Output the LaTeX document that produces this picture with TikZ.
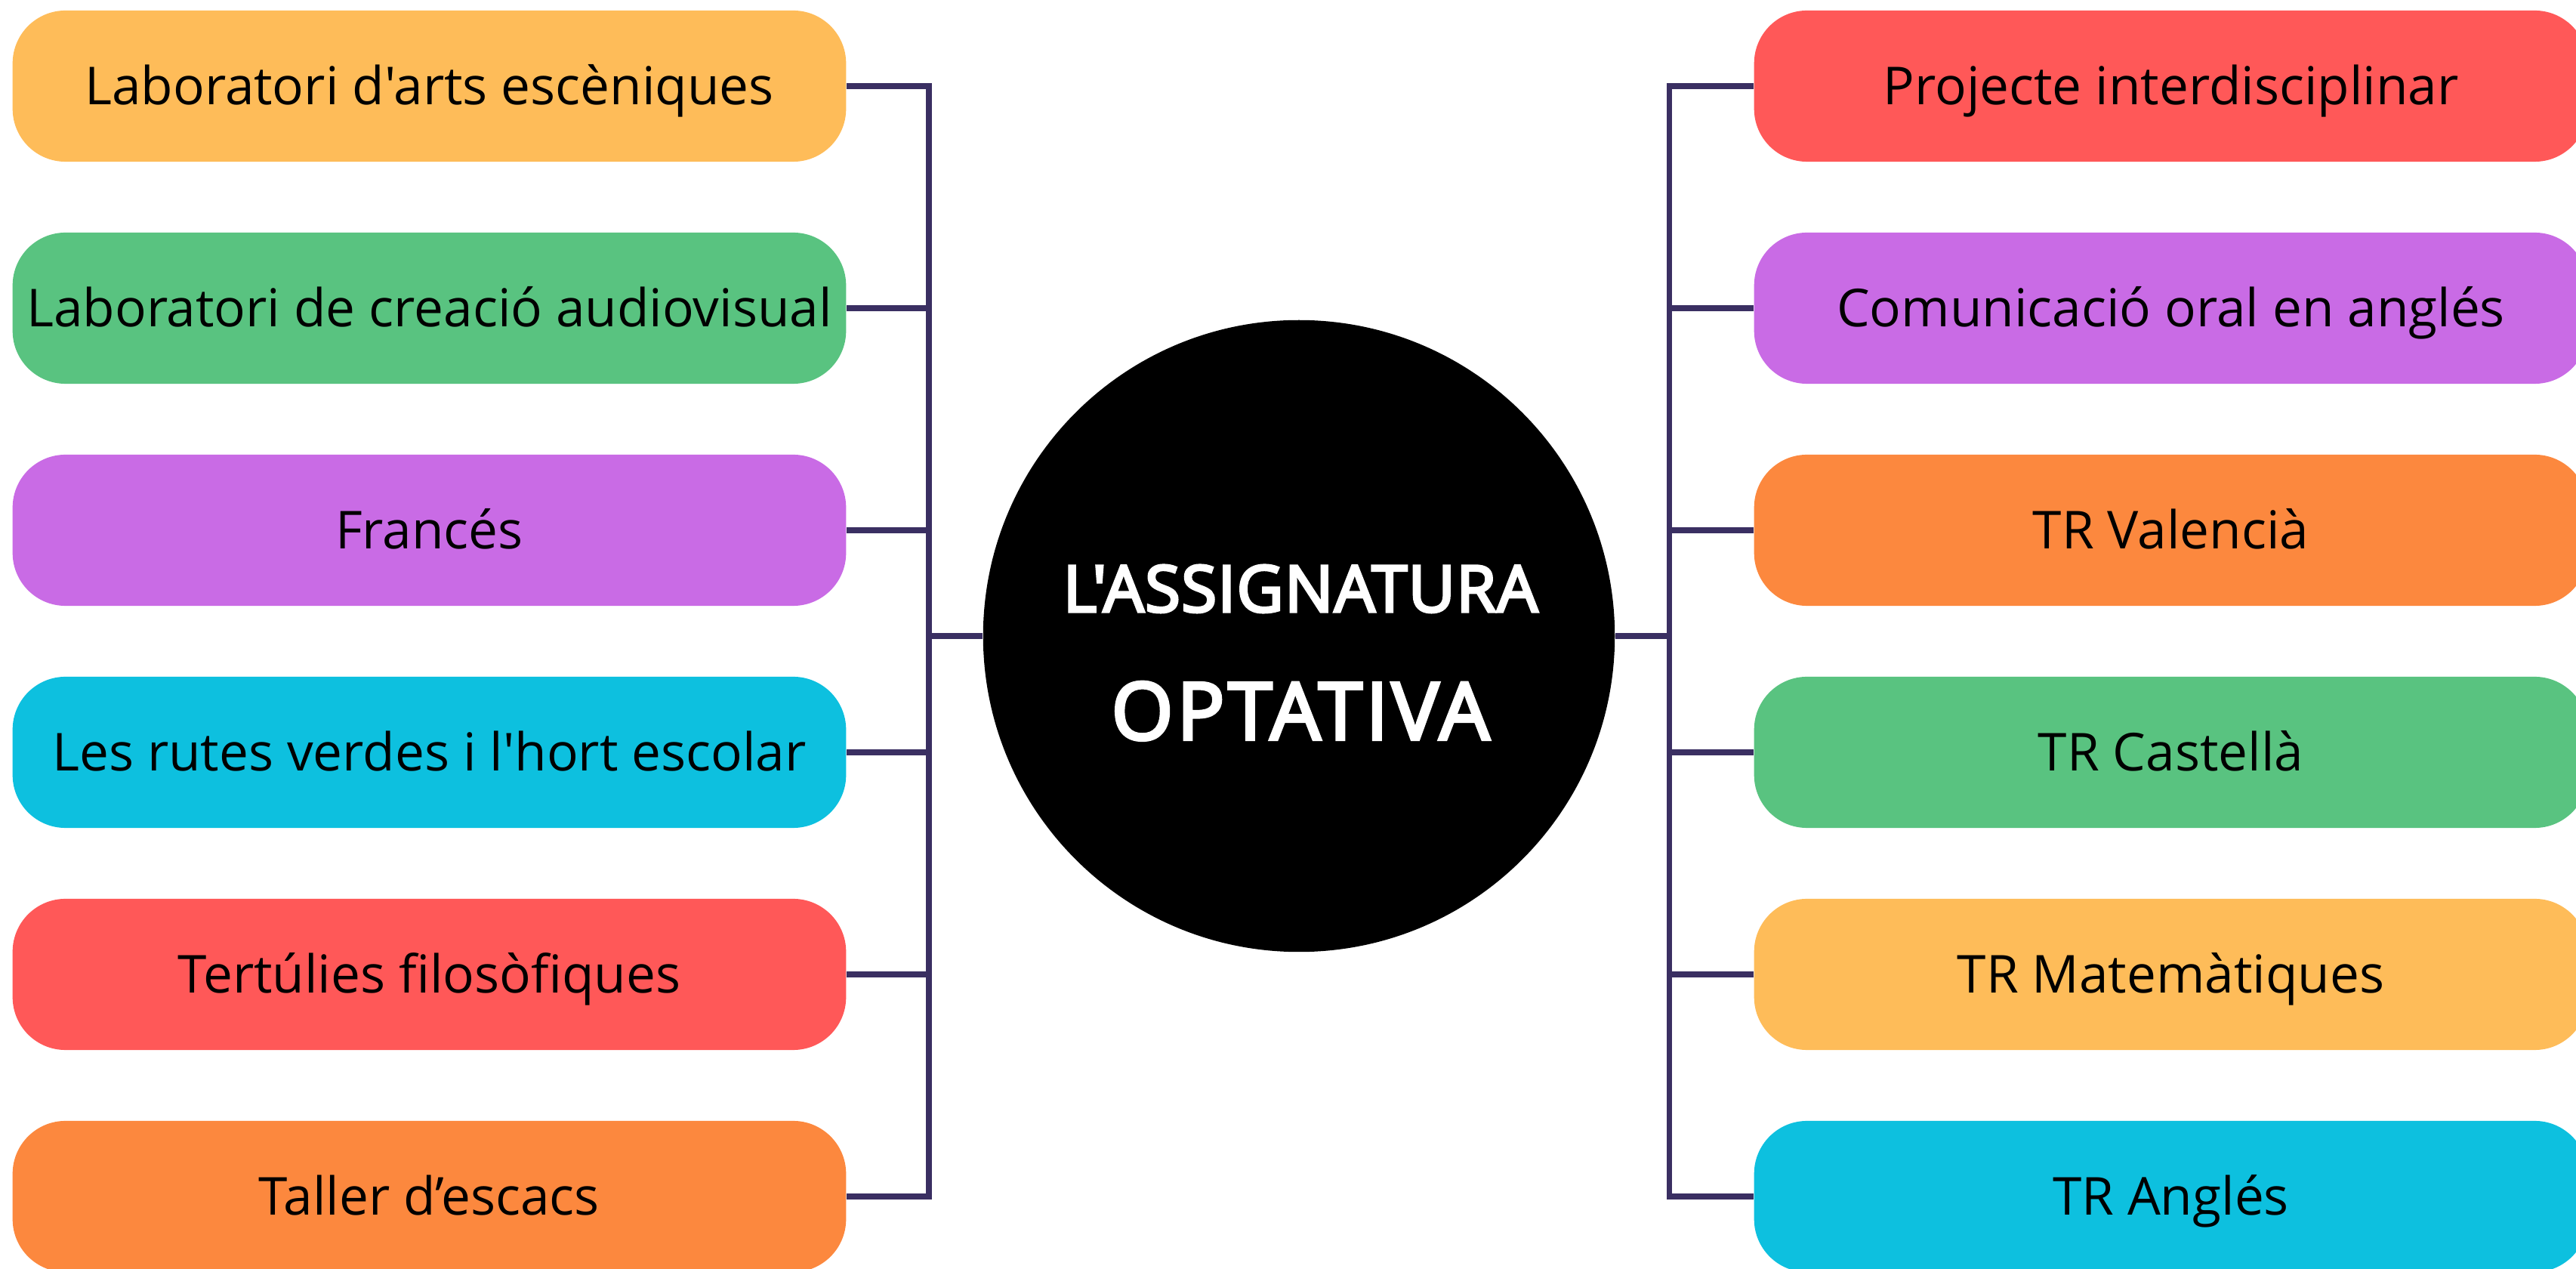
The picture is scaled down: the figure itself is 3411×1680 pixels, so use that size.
\documentclass[tikz,border=0pt]{standalone}
\usepackage{fontspec}
\newfontfamily\boxfont{Open Sans}
\newfontfamily\hubfont[FakeBold=4]{Open Sans}
\definecolor{cyel}{HTML}{FEBC59}
\definecolor{cgrn}{HTML}{59C380}
\definecolor{cpur}{HTML}{C96BE5}
\definecolor{ccya}{HTML}{0DC0DF}
\definecolor{cred}{HTML}{FF5858}
\definecolor{cora}{HTML}{FC883E}
\definecolor{cline}{HTML}{3A2F62}
\tikzset{
  optbox/.style={rectangle, rounded corners=0.7cm, minimum width=11.03cm, minimum height=2cm,
    inner sep=0pt, draw=none, fill=#1, text=black,
    font=\boxfont\fontsize{19.7pt}{23pt}\selectfont, text height=14pt, text depth=0pt},
  conn/.style={draw=cline, line width=2pt},
  hubtext/.style={text=white, inner sep=0pt, anchor=base}
}
\begin{document}
\begin{tikzpicture}[x=0.01cm, y=-0.01cm]
\useasboundingbox (0,0) rectangle (3411,1680);
% hub
\node[circle, fill=black, minimum size=8.36cm, inner sep=0pt] (hub) at (1720,842) {};
\node[hubtext, font=\hubfont\addfontfeature{LetterSpace=1.5}\fontsize{24.3pt}{28pt}\selectfont] (t1) at (1722,810) {L'ASSIGNATURA};
\node[hubtext, font=\hubfont\addfontfeature{LetterSpace=4.5}\fontsize{29.9pt}{34pt}\selectfont] (t2) at (1722,979) {OPTATIVA};
% left boxes
\node[optbox=cyel] (L1) at (568.5,114) {Laboratori d'arts escèniques};
\node[optbox=cgrn] (L2) at (568.5,408) {Laboratori de creació audiovisual};
\node[optbox=cpur] (L3) at (568.5,702) {Francés};
\node[optbox=ccya] (L4) at (568.5,996) {Les rutes verdes i l'hort escolar};
\node[optbox=cred] (L5) at (568.5,1290) {Tertúlies filosòfiques};
\node[optbox=cora] (L6) at (568.5,1584) {Taller d’escacs};
% right boxes
\node[optbox=cred] (R1) at (2874.5,114) {Projecte interdisciplinar};
\node[optbox=cpur] (R2) at (2874.5,408) {Comunicació oral en anglés};
\node[optbox=cora] (R3) at (2874.5,702) {TR Valencià};
\node[optbox=cgrn] (R4) at (2874.5,996) {TR Castellà};
\node[optbox=cyel] (R5) at (2874.5,1290) {TR Matemàtiques};
\node[optbox=ccya] (R6) at (2874.5,1584) {TR Anglés};
% buses
\coordinate (lbus) at (1230,842);
\coordinate (rbus) at (2210,842);
\draw[conn] (L1.east) -| (L6.east -| lbus) -- (L6.east);
\foreach \n in {L2,L3,L4,L5} \draw[conn] (\n.east) -- (\n.east -| lbus);
\draw[conn] (lbus) -- (hub.west);
\draw[conn] (R1.west) -| (R6.west -| rbus) -- (R6.west);
\foreach \n in {R2,R3,R4,R5} \draw[conn] (\n.west) -- (\n.west -| rbus);
\draw[conn] (hub.east) -- (rbus);
\end{tikzpicture}
\end{document}
